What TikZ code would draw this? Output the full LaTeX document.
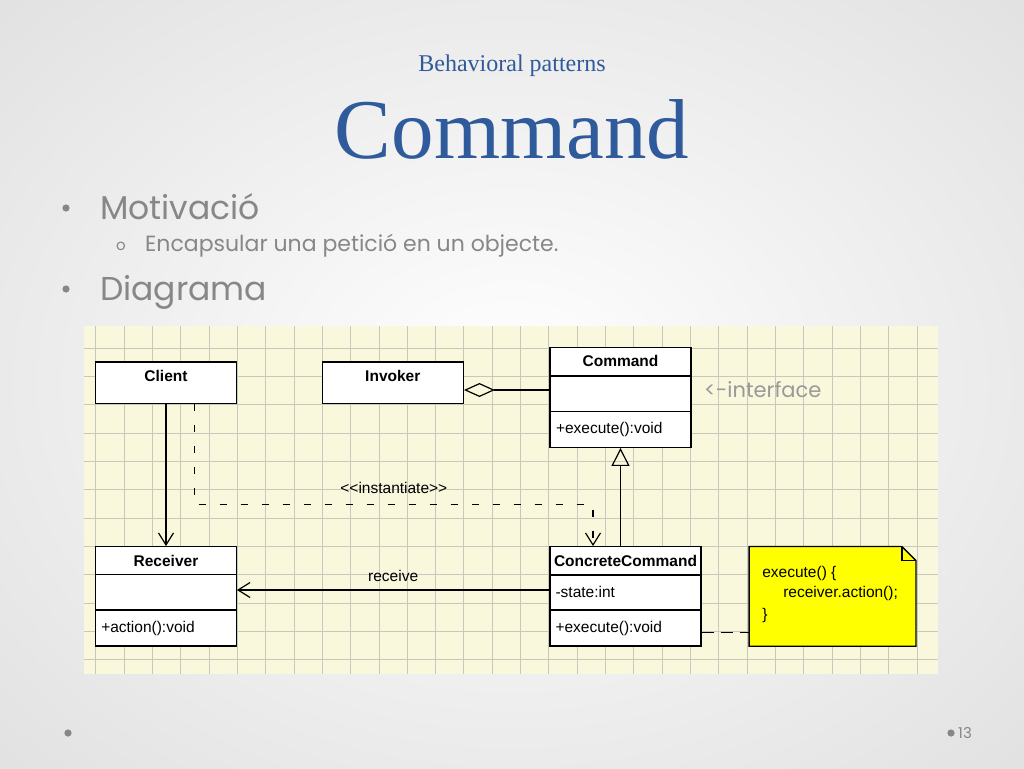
\documentclass[tikz,border=0pt]{standalone}
\usepackage{fontspec}
\setmainfont{Liberation Serif}
\newfontfamily\slidefont{Poppins}
\newfontfamily\umlfont{Liberation Sans}
\usetikzlibrary{arrows.meta, positioning}
\definecolor{titleblue}{HTML}{2F5A9B}
\definecolor{slidegray}{HTML}{878787}
\definecolor{papercream}{HTML}{FAF8DC}
\definecolor{gridgray}{HTML}{C8C8BC}
\definecolor{noteyellow}{HTML}{FFFF00}

\tikzset{
  umltext/.style={font=\umlfont\fontsize{15.5}{18}\selectfont, inner sep=0pt, text height=11pt, text depth=3pt},
  classname/.style={umltext, font=\umlfont\bfseries\fontsize{15.5}{18}\selectfont},
  classbox/.style={rectangle, draw=black, line width=1.3pt, fill=white, inner sep=0pt},
  classline/.style={draw=black, line width=1.3pt},
  assoc/.style={line width=1.2pt, -{Straight Barb[length=12pt, width=15pt, line width=1.2pt]}},
  depend/.style={assoc, dash pattern=on 7pt off 14pt},
  realize/.style={line width=1.2pt, -{Triangle[open, length=18pt, width=18pt, line width=1.2pt]}},
  aggr/.style={line width=1.2pt, {Diamond[open, length=31pt, width=14pt, line width=1.2pt]}-},
  notelink/.style={line width=1.2pt, dash pattern=on 12pt off 7pt},
  slidetext/.style={font=\slidefont, text=slidegray, inner sep=0pt, anchor=base west}
}

\begin{document}
\begin{tikzpicture}[x=1pt, y=1pt]
\useasboundingbox (0,0) rectangle (1024,-768);
% Slide background
\begin{scope}
\clip (0,0) rectangle (1024,-768);
\fill[black!15] (0,0) rectangle (1024,-768);
\shade[inner color=white, outer color=black!15] (-420,330) rectangle (1444,-1098);
\end{scope}

% Title
\node[font=\fontsize{24}{28}\selectfont, text=titleblue, inner sep=0pt, anchor=base] (subtitle) at (512,-71) {Behavioral patterns};
\node[font=\fontsize{85}{90}\selectfont, text=titleblue, inner sep=0pt, anchor=base] (title) at (512,-158) {Command};

% Bullets
\fill[slidegray] (66,-208) circle (3.6);
\node[slidetext, font=\slidefont\fontsize{33}{36}\selectfont] (motiv) at (100,-219) {Motivació};
\node[slidetext, font=\slidefont\fontsize{15}{16}\selectfont] (subbullet) at (116,-250) {o};
\node[slidetext, font=\slidefont\fontsize{22}{24}\selectfont] (encaps) at (145,-251.5) {Encapsular una petició en un objecte.};
\fill[slidegray] (66,-289) circle (3.6);
\node[slidetext, font=\slidefont\fontsize{33}{36}\selectfont] (diag) at (100,-300.5) {Diagrama};

% Diagram paper with grid
\fill[papercream] (84,-326) rectangle (938,-674);
\begin{scope}[shift={(95.7,-348.3)}]
\draw[gridgray, line width=1pt, step=28.33] (-11.7,22.3) grid (842.3,-325.7);
\end{scope}

% Classes
\node[classbox, minimum width=140.6, minimum height=41.3] (client) at (166,-382.5) {};
\node[classname] (clientname) at ([yshift=-16]client.north) {Client};

\node[classbox, minimum width=141, minimum height=41.3] (invoker) at (392.8,-382.5) {};
\node[classname] (invokername) at ([yshift=-16]invoker.north) {Invoker};

\node[classbox, minimum width=141, minimum height=99.6] (command) at (620.5,-397.5) {};
\draw[classline] ([yshift=-29]command.north west) -- ([yshift=-29]command.north east);
\draw[classline] ([yshift=-64.6]command.north west) -- ([yshift=-64.6]command.north east);
\node[classname] (commandname) at ([yshift=-15.5]command.north) {Command};
\node[umltext, anchor=west] (commandop) at ([xshift=6.5, yshift=-82.5]command.north west) {+execute():void};

\node[classbox, minimum width=140.6, minimum height=99.3] (receiver) at (166,-596.35) {};
\draw[classline] ([yshift=-28.5]receiver.north west) -- ([yshift=-28.5]receiver.north east);
\draw[classline] ([yshift=-64]receiver.north west) -- ([yshift=-64]receiver.north east);
\node[classname] (receivername) at ([yshift=-16]receiver.north) {Receiver};
\node[umltext, anchor=west] (receiverop) at ([xshift=6, yshift=-82.5]receiver.north west) {+action():void};

\node[classbox, minimum width=151, minimum height=99.3] (concrete) at (625.5,-596.35) {};
\draw[classline] ([yshift=-29]concrete.north west) -- ([yshift=-29]concrete.north east);
\draw[classline] ([yshift=-64]concrete.north west) -- ([yshift=-64]concrete.north east);
\node[classname] (concretename) at ([yshift=-16]concrete.north) {ConcreteCommand};
\node[umltext, anchor=west] (concreteattr) at ([xshift=6, yshift=-47]concrete.north west) {-state:int};
\node[umltext, anchor=west] (concreteop) at ([xshift=6, yshift=-82.5]concrete.north west) {+execute():void};

% Note
\node[rectangle, inner sep=0pt, minimum width=166.4, minimum height=99.3] (note) at (832.5,-596.35) {};
\filldraw[fill=noteyellow, draw=black, line width=1.3pt] (note.south west) -- (note.north west) -- ([xshift=-14]note.north east) -- ([yshift=-14]note.north east) -- (note.south east) -- cycle;
\draw[classline] ([xshift=-14]note.north east) |- ([yshift=-14]note.north east);
\node[umltext, anchor=west] (noteline1) at ([xshift=13, yshift=-26.5]note.north west) {execute() \{};
\node[umltext, anchor=west] (noteline2) at ([xshift=34, yshift=-47]note.north west) {receiver.action();};
\node[umltext, anchor=west] (noteline3) at ([xshift=13, yshift=-68.5]note.north west) {\}};

% Interface remark
\node[slidetext, font=\slidefont\fontsize{21}{24}\selectfont, text=black!40] (iface) at (704,-397) {<-interface};

% Connectors
\draw[aggr] ([yshift=-7.5]invoker.east) -- ([yshift=7.5]command.west);
\draw[realize] (command.south |- concrete.north) -- (command.south);
\draw[assoc] (client) -- (receiver);
\draw[depend] ([xshift=28.7]client.south) -- ++(0,-101) -| ([xshift=-32.5]concrete.north)
  node[pos=0.25, above=8pt, umltext] (instlabel) {<\kern0pt<instantiate>\kern0pt>};
\draw[assoc] ([yshift=6.35]concrete.west) -- ([yshift=6.35]receiver.east)
  node[midway, above=5pt, umltext] (recvlabel) {receive};
\draw[notelink] ([yshift=-36]concrete.east) -- ([yshift=-36]note.west);

% Footer
\fill[slidegray] (68,-733) circle (3.6);
\fill[slidegray] (951,-733) circle (3.6);
\node[slidetext, font=\slidefont\fontsize{15}{18}\selectfont] (pagenum) at (958,-738.5) {13};
\end{tikzpicture}
\end{document}
